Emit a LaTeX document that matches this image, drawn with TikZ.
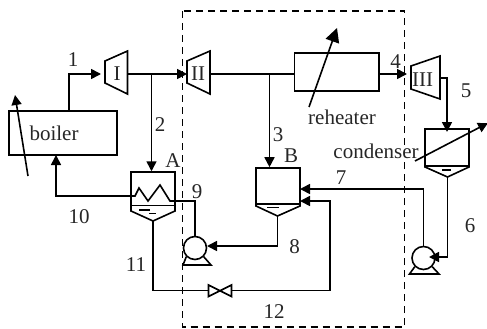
\documentclass[tikz,border=0pt]{standalone}
\usepackage{fontspec}
\setmainfont{Liberation Serif}
\usetikzlibrary{arrows.meta}
\tikzset{
  pipe/.style={line width=1.6pt},
  flow/.style={line width=1.6pt, -{Triangle[length=10pt,width=10pt]}},
  bigflow/.style={line width=1.6pt, -{Triangle[length=14pt,width=14pt]}},
  unit/.style={draw, line width=1.6pt, inner sep=0pt},
  lab/.style={font=\fontsize{21}{21}\selectfont, text=black!85, inner sep=0pt},
}
\begin{document}
\begin{tikzpicture}[x=1pt, y=-1pt]
\useasboundingbox (0, 0) rectangle (487, 329);
\draw [dashed, line width=1.5pt, dash pattern=on 7pt off 5pt] (182.5, 11) rectangle (404.5, 327);
% boiler and stage I
\node [unit, minimum width=108pt, minimum height=44pt, lab] (boiler) at (63, 133) {\hspace{-18pt}boiler};
\coordinate (boilerout) at (69, 111);
\coordinate (boilerin) at (56, 155);
\coordinate (boilerA) at (28, 176);
\coordinate (boilerB) at (15, 95);
\draw [flow] (boilerA) -- (boilerB);
\draw [unit] (105, 61) coordinate (Iin) -- (127.5, 51) -- (127.5, 94) -- (105, 83) -- cycle;
\coordinate (Iinlet) at (101, 74);
\coordinate (Ioutlet) at (127.5, 74);
\node [lab] (tI) at (117, 74) {I};
\draw [flow] (boilerout) |- (Iinlet);
\node [lab] (s1) at (73, 60) {1};
% stage II
\draw [unit] (187, 61) -- (210, 51) -- (210, 94) -- (187, 83) -- cycle;
\coordinate (IIinlet) at (187, 74);
\coordinate (IIoutlet) at (210, 74);
\node [lab] (tII) at (198, 74) {II};
\draw [flow] (Ioutlet) -- (IIinlet);
\coordinate (tapA) at (151.5, 74);
\coordinate (tapB) at (269.5, 74);
% reheater
\node [unit, minimum width=84.5pt, minimum height=38pt] (reheat) at (336.8, 72) {};
\draw [pipe] (IIoutlet) -- (reheat.west |- IIoutlet);
\coordinate (rehA) at (309, 107);
\coordinate (rehB) at (337, 28);
\draw [bigflow] (rehA) -- (rehB);
\node [lab] (rehlab) at (342, 117) {reheater};
% stage III
\draw [unit] (411, 66) -- (440, 56) -- (440, 99) -- (411, 89) -- cycle;
\coordinate (IIIinlet) at (407, 74);
\coordinate (IIIoutlet) at (440, 78);
\node [lab] (tIII) at (422.5, 80) {III};
\draw [flow] (reheat.east |- IIIinlet) -- (IIIinlet);
\node [lab] (s4) at (395.5, 62) {4};
% feedwater heater A
\node [unit, minimum width=44pt, minimum height=33.5pt] (heatA) at (153, 188.8) {};
\draw [unit] (131, 205.5) -- (131, 211) -- (153, 221) coordinate (Atip) -- (175, 211) -- (175, 205.5);
\draw [pipe] (139, 210) -- (150, 210);
\draw [pipe] (149, 213.5) -- (156, 213.5);
\draw [pipe] (131, 196) -- (135, 196) -- (139, 188) -- (148, 201) -- (160, 185) -- (170, 201) -- (175, 201);
\coordinate (coilin) at (131, 196);
\coordinate (coilout) at (175, 201);
\draw [flow] (tapA) -- (tapA |- heatA.north);
\draw [flow] (coilin) -| (boilerin);
\node [lab] (nameA) at (173, 161) {A};
\node [lab] (s2) at (160, 125) {2};
\node [lab] (s10) at (79, 217) {10};
% feedwater heater B
\node [unit, minimum width=44pt, minimum height=36pt] (heatB) at (278, 186) {};
\draw [unit] (256, 204) -- (256, 206) -- (277.5, 216) coordinate (Btip) -- (300, 206) -- (300, 204);
\draw [pipe] (267, 207.5) -- (279, 207.5);
\draw [flow] (tapB) -- (tapB |- heatB.north);
\node [lab] (nameB) at (291, 156) {B};
\node [lab] (s3) at (278, 135) {3};
% condenser
\node [unit, minimum width=44pt, minimum height=37pt] (cond) at (447, 147.5) {};
\draw [unit] (425, 166) -- (425, 167) -- (447.5, 177) coordinate (Ctip) -- (469, 167) -- (469, 166);
\draw [pipe] (442, 170) -- (451, 170);
\coordinate (condA) at (415, 161);
\coordinate (condB) at (488, 123);
\draw [flow] (condA) -- (condB);
\coordinate (condin) at (447, 132);
\draw [flow] (IIIoutlet) -| (condin);
\node [lab] (condlab) at (376, 151) {condenser};
\node [lab] (s5) at (466, 91) {5};
% pumps
\node [unit, circle, minimum size=23pt] (pumpA) at (195, 248) {};
\draw [unit] (pumpA.225) -- (183, 265) -- (211, 265) -- (pumpA.-45);
\node [unit, circle, minimum size=23pt] (pumpB) at (423.5, 258) {};
\draw [unit] (pumpB.225) -- (409.5, 274) -- (439, 274) -- (pumpB.-45);
\coordinate (pumpAin) at (207, 246);
\coordinate (pumpBin) at (429, 257);
\draw [pipe] (coilout) -| (pumpA.north);
\node [lab] (s9) at (197, 192) {9};
\coordinate (bend8) at (277.5, 246);
\draw [pipe] (Btip) -- (bend8);
\draw [flow] (bend8) -- (pumpAin);
\node [lab] (s8) at (294.5, 247) {8};
\coordinate (bend6) at (447.5, 257);
\draw [pipe] (Ctip) -- (bend6);
\draw [flow] (bend6) -- (pumpBin);
\node [lab] (s6) at (470, 226) {6};
\coordinate (inB7) at (300, 189);
\draw [flow] (pumpB.north) |- (inB7);
\node [lab] (s7) at (341, 178) {7};
% valve and drain line
\coordinate (valveL) at (208.5, 290.5);
\coordinate (valveR) at (231.5, 290.5);
\draw [unit] (208.5, 285) -- (231.5, 296.5) -- (231.5, 285) -- (208.5, 296.5) -- cycle;
\coordinate (bend11) at (153, 290.5);
\coordinate (bend12) at (330, 290.5);
\coordinate (inB12) at (300, 201);
\draw [pipe] (Atip) -- (bend11) -- (valveL);
\draw [pipe] (valveR) -- (bend12);
\draw [flow] (bend12) |- (inB12);
\node [lab] (s11) at (136, 265) {11};
\node [lab] (s12) at (274, 312) {12};
\end{tikzpicture}
\end{document}
